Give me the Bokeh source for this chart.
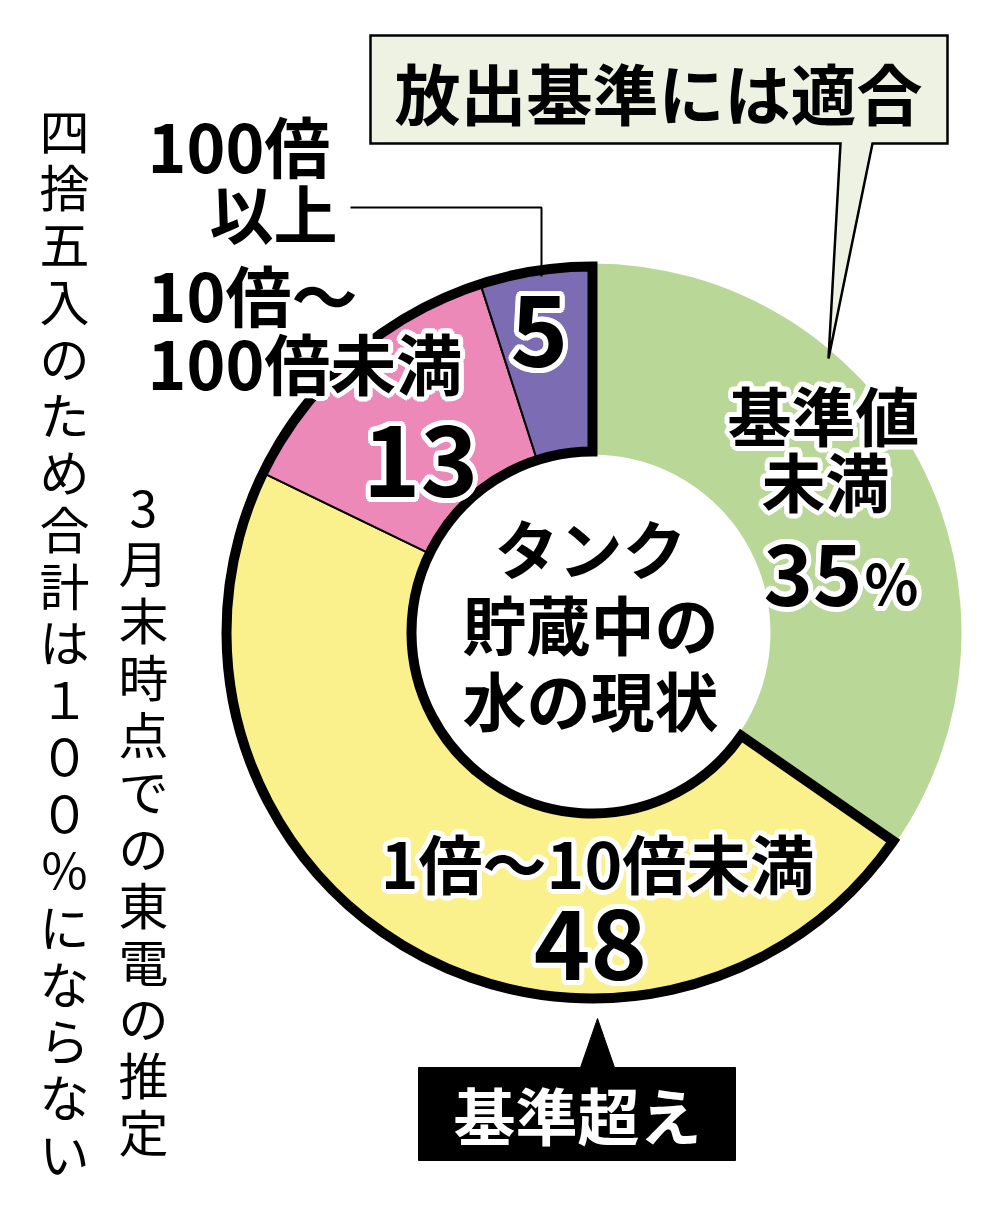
import math
from bokeh.plotting import figure
from bokeh.models import Range1d, ColumnDataSource
from bokeh.embed import file_html
from bokeh.resources import INLINE
from bokeh.core.properties import value

# ---------------- data ----------------
categories = ["基準値未満", "1倍～10倍未満", "10倍～100倍未満", "100倍以上"]
shares = [35, 48, 13, 5]          # percent (rounded, sums to 101)
colors = ["#b9d897", "#faf08c", "#ec89b9", "#7b6cb3"]
exceeds = [0, 1, 1, 1]            # 1 = above the discharge standard

center_lines = ["タンク", "貯蔵中の", "水の現状"]
callout_top = "放出基準には適合"
callout_bottom = "基準超え"
note_right = "3月末時点での東電の推定"
note_left = "四捨五入のため合計は１００％にならない"

# ---------------- figure ----------------
W, H = 1000, 1220
FONT = "Noto Sans CJK JP"


def Y(py):
    return H - py


p = figure(width=W, height=H, x_range=Range1d(0, W), y_range=Range1d(0, H),
           output_backend="svg", toolbar_location=None, min_border=0,
           x_axis_location=None, y_axis_location=None)
p.grid.visible = False
p.outline_line_color = None
p.background_fill_color = "white"
p.border_fill_color = "white"

# ---------------- donut ----------------
cx, cy = 592, Y(632)
r_in, r_out = 178, 369
total = float(sum(shares))
cum = [0.0]
for s in shares:
    cum.append(cum[-1] + s)
start_deg = [c / total * 360 for c in cum[:-1]]   # clockwise from 12 o'clock
end_deg = [c / total * 360 for c in cum[1:]]

src = ColumnDataSource(dict(
    cat=categories,
    start=[math.radians(90 - a) for a in start_deg],
    end=[math.radians(90 - a) for a in end_deg],
    color=colors,
    lalpha=[float(e) for e in exceeds],
))
p.annular_wedge(x=cx, y=cy, inner_radius=r_in, outer_radius=r_out,
                start_angle="start", end_angle="end", direction="clock",
                fill_color="color", line_color="black", line_alpha="lalpha",
                line_width=2, source=src)

# thick outline around the group exceeding the standard
g_start = min(a for a, e in zip(start_deg, exceeds) if e)
g_end = max(a for a, e in zip(end_deg, exceeds) if e)
p.annular_wedge(x=cx, y=cy, inner_radius=r_in + 3, outer_radius=r_out - 3,
                start_angle=math.radians(90 - g_start), end_angle=math.radians(90 - g_end),
                direction="clock", fill_color=None, line_color="black",
                line_width=10, line_join="miter")

# ---------------- callouts ----------------
p.patch([370, 947, 947, 872, 828, 840, 370],
        [Y(35), Y(35), Y(143), Y(143), Y(358), Y(143), Y(143)],
        fill_color="#eef2e3", line_color="black", line_width=2.5, line_join="miter")
p.patch([418, 580, 597, 614, 735, 735, 418],
        [Y(1067), Y(1067), Y(1018), Y(1067), Y(1067), Y(1160), Y(1160)],
        fill_color="black", line_color="black", line_width=1)

# leader line for "100倍以上"
p.line([350, 541, 541], [Y(207), Y(207), Y(276)], line_color="black", line_width=2)


# ---------------- text helper ----------------
def label(x, y, txt, size, color="black", align="center", baseline="middle",
          halo=False, style="bold", lh=1.2):
    kw = dict(text_font=value(FONT), text_font_size=f"{size}px", text_align=align,
              text_baseline=baseline, text_font_style=style, text_line_height=lh)
    if halo:
        n = 16
        for k in range(n):
            a = 2 * math.pi * k / n
            p.text(x=[x], y=[Y(y)], text=[txt], x_offset=5 * math.cos(a),
                   y_offset=5 * math.sin(a), text_color="white", **kw)
    p.text(x=[x], y=[Y(y)], text=[txt], text_color=color, **kw)


label(658, 90, callout_top, 66)
label(577, 1113, callout_bottom, 62, color="white")

label(147, 143, "100倍", 66, align="left")
label(337, 210, "以上", 64, align="right")
label(147, 292, "10倍～", 66, align="left", halo=True)
label(147, 360, "100倍未満", 66, align="left", halo=True)

label(539, 330, str(shares[3]), 98, halo=True)
label(420, 460, str(shares[2]), 98, halo=True)
label(823, 412, "基準値", 64, halo=True)
label(825, 478, "未満", 64, halo=True)
label(862, 574, str(shares[0]), 84, align="right", halo=True)
label(864, 580, "%", 56, align="left", halo=True)
label(597, 860, "1倍～10倍未満", 64, halo=True)
label(590, 944, str(shares[1]), 96, halo=True)

for i, t in enumerate(center_lines):
    label(590, 545 + 76 * i, t, 64)

label(143, 468, "\n".join(note_right), 50, baseline="top", style="normal", lh=0.79)
label(64, 92, "\n".join(note_left), 50, baseline="top", style="normal", lh=0.79)

open("out.html", "w").write(file_html(p, INLINE))
